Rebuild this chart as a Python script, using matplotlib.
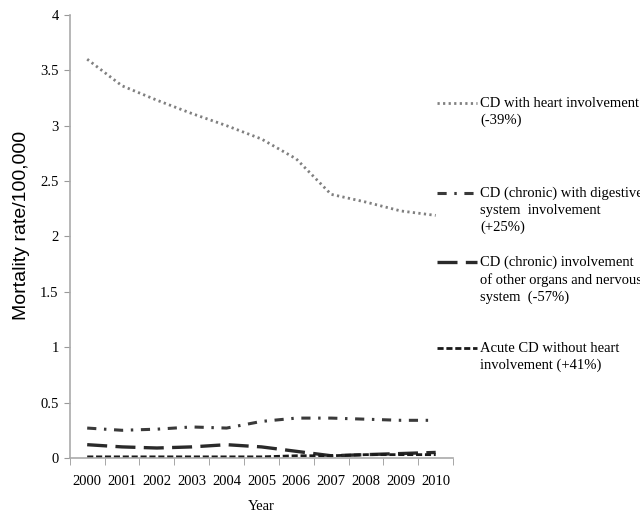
import matplotlib
matplotlib.use("Agg")
import matplotlib.pyplot as plt
from matplotlib.lines import Line2D

years = [2000, 2001, 2002, 2003, 2004, 2005, 2006, 2007, 2008, 2009, 2010]
heart = [3.60, 3.36, 3.23, 3.11, 3.00, 2.88, 2.70, 2.38, 2.31, 2.23, 2.19]
digestive = [0.27, 0.25, 0.26, 0.28, 0.27, 0.33, 0.36, 0.36, 0.35, 0.34, 0.34]
other_organs = [0.12, 0.10, 0.09, 0.10, 0.12, 0.10, 0.06, 0.02, 0.03, 0.04, 0.05]
acute = [0.01, 0.01, 0.01, 0.01, 0.01, 0.01, 0.02, 0.02, 0.03, 0.03, 0.03]

labels = [
    "CD with heart involvement\n(-39%)",
    "CD (chronic) with digestive\nsystem  involvement\n(+25%)",
    "CD (chronic) involvement\nof other organs and nervous\nsystem  (-57%)",
    "Acute CD without heart\ninvolvement (+41%)",
]

serif = ["Liberation Serif", "DejaVu Serif"]
styles = [
    dict(color="#808080", lw=2.0, ls=(0, (0.8, 1.2))),
    dict(color="#3a3a3a", lw=2.2, ls=(0, (3.0, 2.5, 0.8, 2.5))),
    dict(color="#2a2a2a", lw=2.4, ls=(0, (6.0, 2.5))),
    dict(color="#1a1a1a", lw=2.0, ls=(0, (2.2, 1.0))),
]

fig = plt.figure(figsize=(6.4, 5.14), dpi=100)
ax = fig.add_axes([0.109, 0.109, 0.599, 0.862])

for vals, st in zip([heart, digestive, other_organs, acute], styles):
    ax.plot(years, vals, **st)

ax.set_xlim(1999.5, 2010.5)
ax.set_ylim(0, 4)
ax.set_yticks([0, 0.5, 1, 1.5, 2, 2.5, 3, 3.5, 4])
ax.set_yticklabels(["0", "0.5", "1", "1.5", "2", "2.5", "3", "3.5", "4"],
                   fontfamily=serif, fontsize=10.5)
ax.set_xticks(years)
ax.set_xticklabels([str(y) for y in years], fontfamily=serif, fontsize=10.5)
ax.set_xticks([y - 0.5 for y in years] + [2010.5], minor=True)
ax.tick_params(axis="x", which="major", length=0, pad=12)
ax.tick_params(axis="x", which="minor", length=5, color="#999999")
ax.tick_params(axis="y", length=4, color="#999999", pad=4)

for s in ["top", "right"]:
    ax.spines[s].set_visible(False)
for s in ["left", "bottom"]:
    ax.spines[s].set_color("#aaaaaa")
    ax.spines[s].set_linewidth(1.2)

ax.set_xlabel("Year", fontfamily=serif, fontsize=10.5, labelpad=9)
ax.set_ylabel("Mortality rate/100,000", fontfamily=["Liberation Sans", "DejaVu Sans"],
              fontsize=14)
ax.yaxis.set_label_coords(-0.104, 0.524)

# manual legend on the right
leg_y = [0.800, 0.625, 0.490, 0.322]
for yy, lab, st in zip(leg_y, labels, styles):
    fig.add_artist(Line2D([0.683, 0.745], [yy, yy], transform=fig.transFigure, **st))
    fig.text(0.750, yy + 0.012, lab, fontfamily=serif, fontsize=10.5,
             va="top", ha="left", linespacing=1.35)

fig.savefig("out.png", dpi=100)
